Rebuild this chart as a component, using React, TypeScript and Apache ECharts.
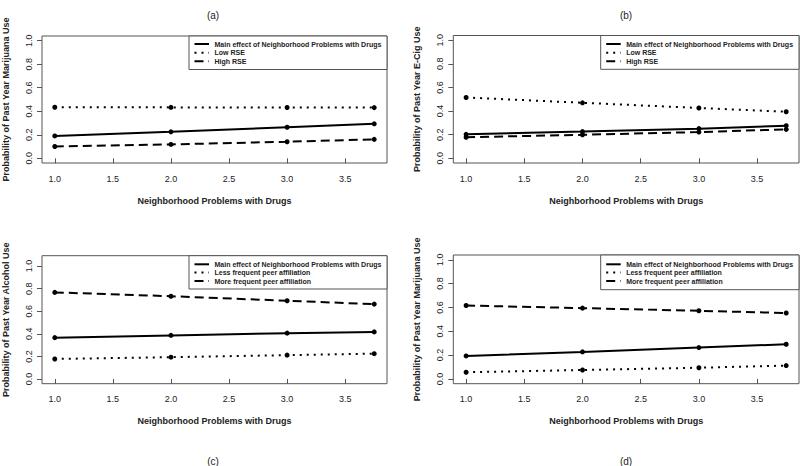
import React, { useEffect, useRef } from "react";
import * as echarts from "echarts";

// ---- data ----
const xValues = [1, 2, 3, 3.75];
const xTickValues = [1, 1.5, 2, 2.5, 3, 3.5];
const yTickValues = [0, 0.2, 0.4, 0.6, 0.8, 1.0];

const mainA = [0.19, 0.225, 0.264, 0.293];
const lowRseA = [0.434, 0.433, 0.432, 0.431];
const highRseA = [0.1, 0.118, 0.141, 0.161];

const mainB = [0.203, 0.226, 0.251, 0.276];
const lowRseB = [0.515, 0.47, 0.426, 0.394];
const highRseB = [0.178, 0.199, 0.222, 0.245];

const mainC = [0.366, 0.386, 0.406, 0.417];
const lessPeerC = [0.177, 0.193, 0.211, 0.224];
const morePeerC = [0.767, 0.733, 0.693, 0.663];

const mainD = [0.193, 0.227, 0.263, 0.291];
const lessPeerD = [0.056, 0.075, 0.094, 0.112];
const morePeerD = [0.616, 0.594, 0.572, 0.553];

const mainLabel = "Main effect of Neighborhood Problems with Drugs";
const lowRseLabel = "Low RSE";
const highRseLabel = "High RSE";
const lessPeerLabel = "Less frequent peer affiliation";
const morePeerLabel = "More frequent peer affiliation";
const xTitle = "Neighborhood Problems with Drugs";
const panelTitles = ["(a)", "(b)", "(c)", "(d)"];
const yTitles = [
  "Probability of Past Year Marijuana Use",
  "Probability of Past Year E-Cig Use",
  "Probability of Past Year Alcohol Use",
  "Probability of Past Year Marijuana Use",
];

const FONT = '"Liberation Sans", Arial, sans-serif';
const FRAME = "#555";

const DOTTED = [2, 5];
const DASHED = [9, 5];

type Panel = {
  grid: { left: number; top: number; width: number; height: number };
  yMin: number;
  yMax: number;
  series: { name: string; values: number[]; dash: number[] | null }[];
  legendBox: { x: number; y: number; w: number; h: number };
  rowYs: number[];
  title: { x: number; y: number };
};

const panels: Panel[] = [
  {
    grid: { left: 41, top: 36, width: 346, height: 127 },
    yMin: -0.04,
    yMax: 1.04,
    series: [
      { name: mainLabel, values: mainA, dash: null },
      { name: lowRseLabel, values: lowRseA, dash: DOTTED },
      { name: highRseLabel, values: highRseA, dash: DASHED },
    ],
    legendBox: { x: 189, y: 36, w: 198, h: 33.5 },
    rowYs: [44, 52.7, 61.2],
    title: { x: 213, y: 15 },
  },
  {
    grid: { left: 453.3, top: 35.5, width: 345.7, height: 127.5 },
    yMin: -0.04,
    yMax: 1.04,
    series: [
      { name: mainLabel, values: mainB, dash: null },
      { name: lowRseLabel, values: lowRseB, dash: DOTTED },
      { name: highRseLabel, values: highRseB, dash: DASHED },
    ],
    legendBox: { x: 600.7, y: 35.5, w: 198.3, h: 33.8 },
    rowYs: [44, 52.7, 61.2],
    title: { x: 626, y: 15 },
  },
  {
    grid: { left: 41, top: 255.7, width: 346, height: 128 },
    yMin: -0.042,
    yMax: 1.092,
    series: [
      { name: mainLabel, values: mainC, dash: null },
      { name: lessPeerLabel, values: lessPeerC, dash: DOTTED },
      { name: morePeerLabel, values: morePeerC, dash: DASHED },
    ],
    legendBox: { x: 189, y: 255.7, w: 198, h: 33.3 },
    rowYs: [264.3, 272.5, 281],
    title: { x: 213, y: 461 },
  },
  {
    grid: { left: 453.3, top: 255, width: 345.7, height: 128.7 },
    yMin: -0.04,
    yMax: 1.04,
    series: [
      { name: mainLabel, values: mainD, dash: null },
      { name: lessPeerLabel, values: lessPeerD, dash: DOTTED },
      { name: morePeerLabel, values: morePeerD, dash: DASHED },
    ],
    legendBox: { x: 600.7, y: 255, w: 198.3, h: 34.7 },
    rowYs: [264.3, 272.5, 281],
    title: { x: 626, y: 461 },
  },
];

function buildOption() {
  const grids: any[] = [];
  const xAxes: any[] = [];
  const yAxes: any[] = [];
  const series: any[] = [];
  const graphics: any[] = [];

  panels.forEach((p, i) => {
    grids.push({
      left: p.grid.left,
      top: p.grid.top,
      width: p.grid.width,
      height: p.grid.height,
      show: true,
      borderColor: FRAME,
      borderWidth: 1,
      backgroundColor: "transparent",
      containLabel: false,
    });
    xAxes.push({
      type: "value",
      gridIndex: i,
      min: 0.89,
      max: 3.86,
      axisLine: { show: false },
      splitLine: { show: false },
      axisTick: {
        show: true,
        length: 5,
        customValues: xTickValues,
        lineStyle: { color: FRAME, width: 1 },
      },
      axisLabel: {
        customValues: xTickValues,
        formatter: (v: number) => v.toFixed(1),
        fontFamily: FONT,
        fontSize: 9,
        color: "#222",
        margin: 11,
      },
      name: xTitle,
      nameLocation: "middle",
      nameGap: 33,
      nameTextStyle: {
        fontFamily: FONT,
        fontSize: 9,
        fontWeight: "bold",
        color: "#222",
      },
    });
    yAxes.push({
      type: "value",
      gridIndex: i,
      min: p.yMin,
      max: p.yMax,
      axisLine: { show: false },
      splitLine: { show: false },
      axisTick: {
        show: true,
        length: 5,
        customValues: yTickValues,
        lineStyle: { color: FRAME, width: 1 },
      },
      axisLabel: {
        customValues: yTickValues,
        formatter: (v: number) => v.toFixed(1),
        rotate: 90,
        fontFamily: FONT,
        fontSize: 9,
        color: "#222",
        margin: 9,
      },
      name: yTitles[i],
      nameLocation: "middle",
      nameRotate: 90,
      nameGap: 32,
      nameTextStyle: {
        fontFamily: FONT,
        fontSize: 9,
        fontWeight: "bold",
        color: "#222",
      },
    });
    p.series.forEach((s) => {
      series.push({
        type: "line",
        name: s.name,
        xAxisIndex: i,
        yAxisIndex: i,
        data: xValues.map((x, k) => [x, s.values[k]]),
        symbol: "circle",
        symbolSize: 5,
        showSymbol: true,
        itemStyle: { color: "#000" },
        lineStyle: {
          color: "#000",
          width: 2,
          type: s.dash ? s.dash : "solid",
        },
        silent: true,
      });
    });

    // legend box (drawn like R's legend)
    const lb = p.legendBox;
    const children: any[] = [
      {
        type: "rect",
        shape: { x: lb.x, y: lb.y, width: lb.w, height: lb.h },
        style: { fill: "#fff", stroke: FRAME, lineWidth: 1 },
      },
    ];
    p.series.forEach((s, k) => {
      const yy = p.rowYs[k];
      children.push({
        type: "line",
        shape: { x1: lb.x + 5.5, y1: yy, x2: lb.x + 20, y2: yy },
        style: {
          stroke: "#000",
          lineWidth: 2,
          lineDash: s.dash ? s.dash : null,
        },
      });
      children.push({
        type: "text",
        x: lb.x + 25.5,
        y: yy,
        style: {
          text: s.name,
          fontFamily: FONT,
          fontSize: 7,
          fontWeight: "bold",
          fill: "#222",
          verticalAlign: "middle",
          align: "left",
        },
      });
    });
    graphics.push({ type: "group", children, z: 100 });
    graphics.push({
      type: "text",
      x: p.title.x,
      y: p.title.y,
      style: {
        text: panelTitles[i],
        fontFamily: FONT,
        fontSize: 10,
        fill: "#222",
        align: "center",
        verticalAlign: "middle",
      },
    });
  });

  return {
    animation: false,
    backgroundColor: "#fff",
    grid: grids,
    xAxis: xAxes,
    yAxis: yAxes,
    series,
    graphic: graphics,
  };
}

export default function App() {
  const ref = useRef<HTMLDivElement>(null);
  useEffect(() => {
    if (!ref.current) return;
    const chart = echarts.init(ref.current, undefined, { renderer: "svg" });
    chart.setOption(buildOption() as any);
    return () => chart.dispose();
  }, []);
  return (
    <div
      ref={ref}
      style={{ position: "fixed", left: 0, top: 0, width: 800, height: 466 }}
    />
  );
}
